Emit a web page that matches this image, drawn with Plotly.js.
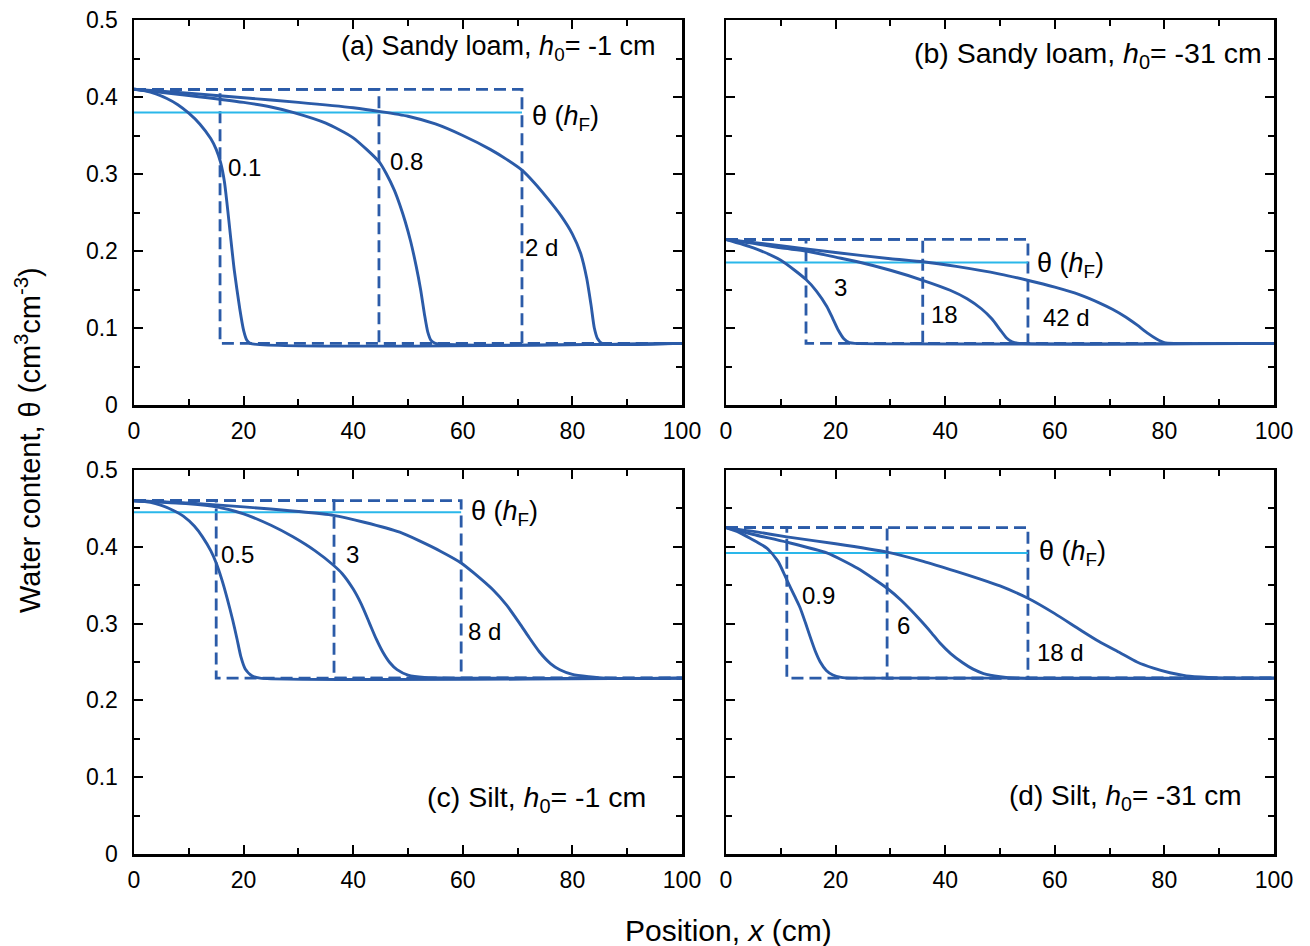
<!DOCTYPE html>
<html>
<head>
<meta charset="utf-8">
<script src="https://cdn.plot.ly/plotly-3.0.1.min.js"></script>
<style>html,body{margin:0;padding:0;background:#fff}</style>
</head>
<body>
<div id="chart" style="width:1310px;height:946px"></div>
<script>
// ---------- Panel (a): Sandy loam, h0 = -1 cm ----------
const thetaSA = 0.41, thetaIA = 0.08, thetaFA = 0.38;
const frontA = [15.7, 44.7, 70.8];
const timeLabelsA = ["0.1", "0.8", "2 d"];
const xA1 = [0, 2, 4, 6, 8, 10, 12, 14, 15, 15.8, 16.5, 17, 17.6, 18.3, 19.3, 20.0, 20.6, 21.2, 100];
const yA1 = [0.41, 0.408, 0.404, 0.398, 0.39, 0.379, 0.365, 0.346, 0.332, 0.315, 0.29, 0.26, 0.22, 0.175, 0.125, 0.097, 0.084, 0.08, 0.08];
const xA2 = [0, 10, 20, 25, 29, 35, 40, 44.7, 46, 47.5, 48.5, 49.5, 50.5, 51.5, 52.3, 53, 53.6, 54.2, 55, 100];
const yA2 = [0.41, 0.402, 0.393, 0.387, 0.38, 0.366, 0.347, 0.316, 0.301, 0.279, 0.26, 0.238, 0.212, 0.18, 0.15, 0.118, 0.095, 0.084, 0.08, 0.08];
const xA3 = [0, 10, 20, 30, 40, 45, 50, 55, 60, 65, 68, 70.8, 73, 75.5, 78, 80, 81.5, 82.6, 83.4, 84, 84.6, 85.4, 100];
const yA3 = [0.41, 0.405, 0.399, 0.393, 0.386, 0.381, 0.375, 0.365, 0.35, 0.332, 0.319, 0.305, 0.289, 0.268, 0.245, 0.222, 0.197, 0.165, 0.13, 0.1, 0.086, 0.08, 0.08];

// ---------- Panel (b): Sandy loam, h0 = -31 cm ----------
const thetaSB = 0.215, thetaIB = 0.08, thetaFB = 0.185;
const frontB = [14.6, 35.9, 55.1];
const timeLabelsB = ["3", "18", "42 d"];
const xB1 = [0, 5, 10, 14.6, 16.5, 18.4, 19.5, 20.5, 21.5, 22.5, 23.5, 100];
const yB1 = [0.215, 0.204, 0.188, 0.163, 0.148, 0.128, 0.112, 0.097, 0.086, 0.081, 0.08, 0.08];
const xB2 = [0, 5, 10, 14.6, 20, 24, 30, 35.9, 40.9, 44, 46.6, 48.5, 50, 51.2, 52.2, 53.5, 100];
const yB2 = [0.215, 0.21, 0.204, 0.2, 0.192, 0.186, 0.175, 0.162, 0.149, 0.138, 0.125, 0.112, 0.098, 0.087, 0.082, 0.08, 0.08];
const xB3 = [0, 10, 20, 30, 36, 42, 50, 55, 60, 64.6, 68, 70.6, 73, 75, 77, 78.5, 80, 82, 100];
const yB3 = [0.215, 0.207, 0.198, 0.19, 0.186, 0.18, 0.17, 0.162, 0.153, 0.143, 0.133, 0.124, 0.114, 0.104, 0.093, 0.086, 0.081, 0.08, 0.08];

// ---------- Panel (c): Silt, h0 = -1 cm ----------
const thetaSC = 0.46, thetaIC = 0.229, thetaFC = 0.445;
const frontC = [15.0, 36.5, 59.7];
const timeLabelsC = ["0.5", "3", "8 d"];
const xC1 = [0, 3, 5, 7, 9, 11, 12.5, 14, 15, 16, 17, 18, 18.8, 19.5, 20.3, 21.5, 23, 100];
const yC1 = [0.46, 0.458, 0.454, 0.448, 0.44, 0.427, 0.413, 0.395, 0.379, 0.358, 0.333, 0.305, 0.28, 0.257, 0.241, 0.232, 0.229, 0.229];
const xC2 = [0, 10, 15, 20, 25, 29, 33, 36.4, 38, 40, 41.5, 43, 44.2, 45.4, 46.7, 48, 50, 53, 100];
const yC2 = [0.46, 0.456, 0.452, 0.443, 0.428, 0.413, 0.395, 0.376, 0.365, 0.345, 0.325, 0.3, 0.28, 0.263, 0.249, 0.24, 0.233, 0.23, 0.229];
const xC3 = [0, 10, 20, 30, 36.4, 42, 48.5, 52, 56, 59.7, 62, 65.5, 68, 70.4, 72, 74, 76, 77.7, 80, 83, 86, 100];
const yC3 = [0.46, 0.457, 0.452, 0.446, 0.441, 0.432, 0.419, 0.408, 0.394, 0.379, 0.366, 0.344, 0.324, 0.3, 0.283, 0.263, 0.248, 0.24, 0.234, 0.231, 0.229, 0.229];

// ---------- Panel (d): Silt, h0 = -31 cm ----------
const thetaSD = 0.425, thetaID = 0.229, thetaFD = 0.392;
const frontD = [11.1, 29.4, 55.1];
const timeLabelsD = ["0.9", "6", "18 d"];
const xD1 = [0, 2, 4.4, 7.5, 9.5, 11.1, 12.5, 13.5, 14.5, 15.3, 16.3, 17.2, 18.3, 19.5, 21, 23, 100];
const yD1 = [0.425, 0.42, 0.411, 0.398, 0.381, 0.357, 0.336, 0.321, 0.301, 0.284, 0.264, 0.25, 0.239, 0.233, 0.23, 0.229, 0.229];
const xD2 = [0, 5, 11.1, 18.4, 24, 29.4, 32, 35.4, 37.5, 39, 41, 43.2, 45, 47, 50, 53, 100];
const yD2 = [0.425, 0.416, 0.406, 0.392, 0.372, 0.346, 0.33, 0.305, 0.288, 0.275, 0.261, 0.249, 0.241, 0.235, 0.231, 0.229, 0.229];
const xD3 = [0, 5, 11.1, 20, 29.4, 36, 42, 46.4, 50, 55.1, 60, 64.6, 68, 71.9, 75, 78, 81, 84, 88, 92, 100];
const yD3 = [0.425, 0.42, 0.413, 0.404, 0.393, 0.381, 0.368, 0.358, 0.349, 0.333, 0.313, 0.292, 0.277, 0.262, 0.25, 0.242, 0.236, 0.232, 0.23, 0.229, 0.229];

const panelTitles = [
  "(a) Sandy loam, <i>h</i><sub>0</sub>= -1 cm",
  "(b) Sandy loam, <i>h</i><sub>0</sub>= -31 cm",
  "(c) Silt, <i>h</i><sub>0</sub>= -1 cm",
  "(d) Silt, <i>h</i><sub>0</sub>= -31 cm"
];
const xTicks = [0, 20, 40, 60, 80, 100];
const yTicks = [0, 0.1, 0.2, 0.3, 0.4, 0.5];

const BLUE = "#2b5ba8", CYAN = "#2ab7ea";
const FONT = "Liberation Sans, Arial, Helvetica, sans-serif";

const panels = [
  {xa: "x", ya: "y", ts: thetaSA, ti: thetaIA, tf: thetaFA, fronts: frontA, labels: timeLabelsA,
   curves: [[xA1, yA1], [xA2, yA2], [xA3, yA3]],
   labelPos: [[16.8, 0.309], [46.4, 0.316], [71.0, 0.204]], fLabel: [72.3, 0.373],
   titlePos: [95.4, 0.4636], titleSize: 27},
  {xa: "x2", ya: "y2", ts: thetaSB, ti: thetaIB, tf: thetaFB, fronts: frontB, labels: timeLabelsB,
   curves: [[xB1, yB1], [xB2, yB2], [xB3, yB3]],
   labelPos: [[19.3, 0.152], [37.0, 0.117], [57.5, 0.114]], fLabel: [56.4, 0.182],
   titlePos: [98.2, 0.4545], titleSize: 28.5},
  {xa: "x3", ya: "y3", ts: thetaSC, ti: thetaIC, tf: thetaFC, fronts: frontC, labels: timeLabelsC,
   curves: [[xC1, yC1], [xC2, yC2], [xC3, yC3]],
   labelPos: [[15.5, 0.39], [38.3, 0.39], [60.6, 0.29]], fLabel: [61.1, 0.444],
   titlePos: [93.8, 0.0716], titleSize: 28.5},
  {xa: "x4", ya: "y4", ts: thetaSD, ti: thetaID, tf: thetaFD, fronts: frontD, labels: timeLabelsD,
   curves: [[xD1, yD1], [xD2, yD2], [xD3, yD3]],
   labelPos: [[13.5, 0.336], [30.8, 0.297], [56.4, 0.262]], fLabel: [56.8, 0.392],
   titlePos: [94.6, 0.074], titleSize: 28}
];

const traces = [];
const annotations = [];
panels.forEach((p, i) => {
  // sharp-front (dashed) profiles
  p.fronts.forEach(xf => {
    traces.push({x: [0, xf, xf, 100], y: [p.ts, p.ts, p.ti, p.ti], xaxis: p.xa, yaxis: p.ya,
      mode: "lines", line: {color: BLUE, width: 2.8, dash: "12px,6px"}, hoverinfo: "skip", showlegend: false});
  });
  // theta(hF) line
  const xmax = Math.max(...p.fronts);
  traces.push({x: [0, xmax], y: [p.tf, p.tf], xaxis: p.xa, yaxis: p.ya, mode: "lines",
    line: {color: CYAN, width: 2}, showlegend: false, hoverinfo: "skip"});
  // simulated profiles
  p.curves.forEach(c => {
    traces.push({x: c[0], y: c[1], xaxis: p.xa, yaxis: p.ya, mode: "lines",
      line: {color: BLUE, width: 2.9, shape: "spline", smoothing: 0.6}, showlegend: false});
  });
  const xr = p.xa, yr = p.ya;
  p.labels.forEach((t, k) => {
    annotations.push({xref: xr, yref: yr, x: p.labelPos[k][0], y: p.labelPos[k][1], text: t,
      showarrow: false, xanchor: "left", yanchor: "middle", font: {family: FONT, size: 24, color: "#000"}});
  });
  annotations.push({xref: xr, yref: yr, x: p.fLabel[0], y: p.fLabel[1],
    text: "θ (<i>h</i><sub>F</sub>)", showarrow: false, xanchor: "left", yanchor: "middle",
    font: {family: FONT, size: 27, color: "#000"}});
  annotations.push({xref: xr, yref: yr, x: p.titlePos[0], y: p.titlePos[1], text: panelTitles[i],
    showarrow: false, xanchor: "right", yanchor: "middle", font: {family: FONT, size: p.titleSize, color: "#000"}});
});

annotations.push({xref: "paper", yref: "paper", x: 728 / 1310, y: 1 - 930 / 946,
  text: "Position, <i>x</i> (cm)", showarrow: false, xanchor: "center", yanchor: "middle",
  font: {family: FONT, size: 30, color: "#000"}});
annotations.push({xref: "paper", yref: "paper", x: 28 / 1310, y: 1 - 440 / 946,
  text: "Water content, θ (cm<sup>3</sup>cm<sup>-3</sup>)", textangle: -90, showarrow: false,
  xanchor: "center", yanchor: "middle", font: {family: FONT, size: 29, color: "#000"}});

function xAxis(dom, anchor) {
  return {domain: dom, anchor: anchor, range: [0, 100], tickvals: xTicks, ticks: "inside", ticklen: 9,
    tickwidth: 2, tickcolor: "#000", showline: true, linecolor: "#000", linewidth: 2.5, mirror: "allticks",
    showgrid: false, zeroline: false, ticklabelstandoff: 4, tickfont: {family: FONT, size: 23, color: "#000"},
    minor: {dtick: 10, ticks: "inside", ticklen: 6, tickwidth: 2, tickcolor: "#000", showgrid: false}};
}
function yAxis(dom, anchor, labels) {
  return {domain: dom, anchor: anchor, range: [0, 0.5], tickvals: yTicks, ticks: "inside", ticklen: 9,
    tickwidth: 2, tickcolor: "#000", showline: true, linecolor: "#000", linewidth: 2.5, mirror: "allticks",
    showgrid: false, zeroline: false, showticklabels: labels, ticklabelstandoff: 9,
    tickfont: {family: FONT, size: 23, color: "#000"},
    minor: {dtick: 0.05, ticks: "inside", ticklen: 6, tickwidth: 2, tickcolor: "#000", showgrid: false}};
}
const dxL = [134 / 1310, 682 / 1310], dxR = [726 / 1310, 1274 / 1310];
const dyT = [1 - 405 / 946, 1 - 20 / 946], dyB = [1 - 854 / 946, 1 - 470 / 946];

const layout = {
  width: 1310, height: 946, margin: {l: 0, r: 0, t: 0, b: 0},
  paper_bgcolor: "#fff", plot_bgcolor: "#fff", showlegend: false,
  font: {family: FONT, color: "#000"},
  xaxis: xAxis(dxL, "y"), yaxis: yAxis(dyT, "x", true),
  xaxis2: xAxis(dxR, "y2"), yaxis2: yAxis(dyT, "x2", false),
  xaxis3: xAxis(dxL, "y3"), yaxis3: yAxis(dyB, "x3", true),
  xaxis4: xAxis(dxR, "y4"), yaxis4: yAxis(dyB, "x4", false),
  annotations: annotations
};
Plotly.newPlot("chart", traces, layout, {displayModeBar: false, staticPlot: true});
</script>
</body>
</html>
